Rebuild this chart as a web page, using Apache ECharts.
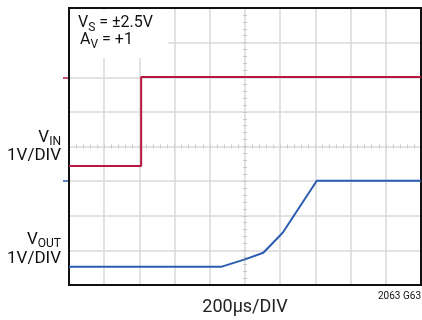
<!DOCTYPE html>
<html>
<head>
<meta charset="utf-8">
<script src="https://cdn.jsdelivr.net/npm/echarts@6/dist/echarts.min.js"></script>
<style>
  html, body { margin: 0; padding: 0; background: #fff; }
  #main { width: 422px; height: 320px; }
</style>
</head>
<body>
<div id="main"></div>
<script>
// scope trace, in divisions: x 0..10 (200us/div), y 0..8 (1V/div)
var vinX = [0, 2.05, 2.05, 10]
var vinY = [3.44, 3.44, 6.01, 6.01]
var voutX = [0, 4.34, 5.0, 5.52, 6.07, 7.04, 10]
var voutY = [0.53, 0.53, 0.74, 0.93, 1.51, 3.01, 3.01]
var groundVin = [6]
var groundVout = [3]

var FONT = 'Roboto, "Liberation Sans", sans-serif'
var RED = '#b8173f'
var BLUE = '#2b5cb0'
var GRID = '#d9d9d9'

function pairs(xs, ys) {
    var out = []
    for (var i = 0; i < xs.length; i++) out.push([xs[i], ys[i]])
    return out
}

var chart = echarts.init(document.getElementById('main'))

// helper for the little minor-tick axes along the centre lines
function centreX(inside) {
    return {
        type: 'value', min: 0, max: 10, interval: 1, position: 'bottom', offset: -138.5,
        axisLine: { show: true, lineStyle: { color: '#e4e4e4', width: 1 } },
        axisTick: { show: true, inside: inside, length: 2, lineStyle: { color: '#c8c8c8' } },
        minorTick: { show: true, splitNumber: 5, length: 2, lineStyle: { color: '#c8c8c8' } },
        axisLabel: { show: false }, splitLine: { show: false }
    }
}
function centreY(inside) {
    return {
        type: 'value', min: 0, max: 8, interval: 1, position: 'left', offset: -176,
        axisLine: { show: true, lineStyle: { color: '#e4e4e4', width: 1 } },
        axisTick: { show: true, inside: inside, length: 2, lineStyle: { color: '#c8c8c8' } },
        minorTick: { show: true, splitNumber: 5, length: 2, lineStyle: { color: '#c8c8c8' } },
        axisLabel: { show: false }, splitLine: { show: false }
    }
}
function groundAxis(vals, color) {
    return {
        type: 'value', min: 0, max: 8, position: 'left',
        axisLine: { show: false },
        axisTick: { show: true, length: 6, customValues: vals, lineStyle: { color: color, width: 1.5 } },
        axisLabel: { show: false }, splitLine: { show: false }
    }
}

function subText(x, y, main, sub, rest, size, align) {
    return {
        type: 'text', x: x, y: y, z: 6,
        style: {
            text: '{v|' + main + '}{s|' + sub + '}' + (rest ? '{v|' + rest + '}' : ''),
            align: align,
            rich: {
                v: { fontFamily: FONT, fontSize: size, fill: '#111', verticalAlign: 'top' },
                s: { fontFamily: FONT, fontSize: Math.round(size * 0.72), fill: '#111', verticalAlign: 'top', padding: [Math.round(size * 0.42), 0, 0, 0] }
            }
        }
    }
}

var option = {
    animation: false,
    grid: {
        left: 69, right: 1, top: 8, bottom: 35, outerBoundsMode: 'none', containLabel: false,
        show: true, borderColor: '#111', borderWidth: 2, backgroundColor: 'transparent', z: 3
    },
    xAxis: [
        {
            type: 'value', min: 0, max: 10, interval: 1,
            name: '200µs/DIV', nameLocation: 'middle', nameGap: 13,
            nameTextStyle: { fontFamily: FONT, fontSize: 18, color: '#222', verticalAlign: 'top' },
            axisLine: { show: false }, axisTick: { show: false }, axisLabel: { show: false },
            splitLine: { show: true, lineStyle: { color: GRID, width: 1.5 } }
        },
        centreX(true),
        centreX(false)
    ],
    yAxis: [
        {
            type: 'value', min: 0, max: 8, interval: 1,
            axisLine: { show: false }, axisTick: { show: false }, axisLabel: { show: false },
            splitLine: { show: true, lineStyle: { color: GRID, width: 1.5 } }
        },
        centreY(true),
        centreY(false),
        groundAxis(groundVin, RED),
        groundAxis(groundVout, BLUE)
    ],
    graphic: [
        { type: 'rect', shape: { x: 70, y: 10, width: 98, height: 48 }, style: { fill: '#fff' }, z: 5 },
        subText(78, 15, 'V', 'S', ' = ±2.5V', 16, 'left'),
        subText(80, 32, 'A', 'V', ' = +1', 16, 'left'),
        subText(61, 129, 'V', 'IN', '', 17, 'right'),
        {
            type: 'text', x: 61, y: 147, z: 6,
            style: { text: '1V/DIV', align: 'right', fontFamily: FONT, fontSize: 17, fill: '#111' }
        },
        subText(61, 231, 'V', 'OUT', '', 17, 'right'),
        {
            type: 'text', x: 61, y: 250, z: 6,
            style: { text: '1V/DIV', align: 'right', fontFamily: FONT, fontSize: 17, fill: '#111' }
        },
        {
            type: 'text', x: 421, y: 291, z: 6,
            style: { text: '2063 G63', align: 'right', fontFamily: FONT, fontSize: 10, fill: '#111' }
        }
    ],
    series: [
        {
            name: 'VIN', type: 'line', data: pairs(vinX, vinY),
            symbol: 'none', lineStyle: { color: RED, width: 2 }, z: 4
        },
        {
            name: 'VOUT', type: 'line', data: pairs(voutX, voutY),
            symbol: 'none', lineStyle: { color: BLUE, width: 2 }, z: 4
        }
    ]
}

chart.setOption(option)
</script>
</body>
</html>
